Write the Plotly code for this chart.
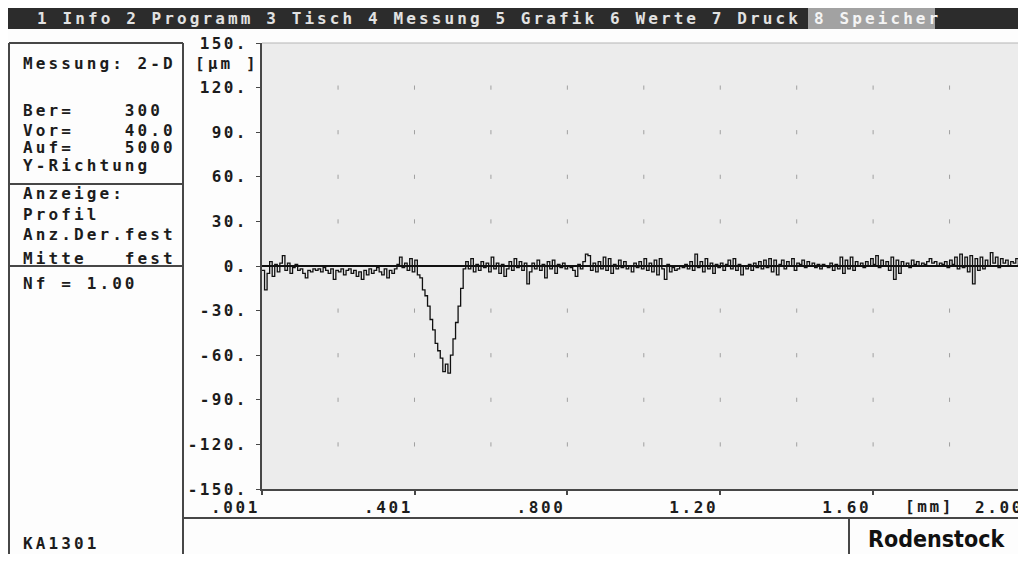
import numpy as np
import plotly.graph_objects as go

# ---------------- data ----------------
menu_items = "1 Info 2 Programm 3 Tisch 4 Messung 5 Grafik 6 Werte 7 Druck"
menu_active = "8 Speicher"

panel_lines = ["Messung: 2-D", "Ber=    300", "Vor=    40.0", "Auf=    5000", "Y-Richtung",
               "Anzeige:", "Profil", "Anz.Der.fest", "Mitte   fest", "Nf = 1.00"]
panel_footer = "KA1301"
brand = "Rodenstock"
y_unit = "[µm ]"
x_unit = "[mm]"

y_tickvals = [150, 120, 90, 60, 30, 0, -30, -60, -90, -120, -150]
y_ticktext = ["150.", "120.", "90.", "60.", "30.", "0.", "-30.", "-60.", "-90.", "-120.", "-150."]
x_tickvals = [0.001, 0.401, 0.800, 1.20, 1.60, 2.00]
x_ticktext = [".001", ".401", ".800", "1.20", "1.60", "2.00"]

grid_x = [0.2, 0.4, 0.6, 0.8, 1.0, 1.2, 1.4, 1.6, 1.8]
grid_y = [120, 90, 60, 30, -30, -60, -90, -120]

x_start, x_end = 0.001, 2.0

# profile heights in µm, read left to right
profile_left = [-3, -16, -5, 3, -7, 1, -4, 2, 7, -3, 2, -5, -1, 1, -3, -2, -5, -8, -3, -4,
                -2, -3, -2, -4, -1, -3, -5, -2, -9, -3, -4, -2, -6, -3, -2, -5, -3, -7, -4, -9,
                -3, -6, -2, -5, -3, -1, -4, -6, -2, -8, -3, -5, -2, 1, 6, -1, 2, -3, 5, -4,
                4, -6]
profile_groove = [-8, -16, -20, -27, -36, -43, -52, -57, -62, -71, -66, -72, -60, -49, -38,
                  -27, -15, -2]
profile_after = [3, -2, 5, -4, 1, -3, 3, -1, 2, -4, 6, -2, 2, -5, 1, -7, -2, 3, -3, 5, -1, 3]
profile_mid = [-3, 2, -12, -4, 2, -2, 4, -3, 1, -8, 3, -2, 4, -5, 1, -1, 2, -2, 0, -1,
               -3, -7, 1, -2, 3, 8, 7, -3, 2, -4, 3, -2, 6, -3, 5, -5, 1, -2, 4, -1,
               3, -2, 0, -4, 2, -1, 3, -2, 5, -3, 2, -4, 4, -6, 5, -2, -9, 1, -4, -1,
               -3, -2, 0, -1, 1, -2, 3, -3, 8, -1, 3, -4, 5, -2, 2, -5, 1, -1, 2, -3,
               1, 4, -2, 5, -3, 1, -6, 0, -2, 1, -3, 2, -1, 3, -2, 4, -1, 5, -4, 4, -6]
profile_right = [1, 4, -2, 3, 0, 5, -3, 2, 1, 4, -1, 3, 0, 2, -1, 1, -2, 1, 0, -1,
                 2, -3, 1, -2, 6, -5, 4, -2, 6, -3, 3, 0, 2, -1, 3, 0, 5, 1, 7, -1,
                 4, 0, 3, -3, 6, -9, 4, -5, 3, 0, 2, -1, 4, 1, 3, 0, 2, 1, 3, 5,
                 2, 3, 0, 2, 1, 3, -1, 4, 1, 6, -2, 8, -1, 6, -4, 7, -12, 5, -3, 6,
                 -2, 4, 0, 9, 2, 6, -1, 5, 2, 4, 0, 3, 2, 5, 1, 3, 2, 4]

profile = profile_left + profile_groove + profile_after + profile_mid + profile_right
xs = np.linspace(x_start, x_end, len(profile))

# ---------------- geometry (screen pixels of the photographed page) ----------------
W, H = 1026, 562
OFF = 8                      # default page body margin
FIG_W, FIG_H = W - OFF, H - 2 * OFF   # keep the page free of scrollbars
L, R, T, B = 262, 1026, 43, 489
MONO = "DejaVu Sans Mono"
INK = "#1c1c1c"
FRAME = "#474747"
FS = 16


def fx(p):
    return (p - L) / (R - L)


def fy(p):
    return (B - p) / (B - T)


def sp(s, ls=3.1):
    return '<span style="letter-spacing:%spx">%s</span>' % (ls, s.replace(" ", "\u00a0"))


fig = go.Figure()

# grid marks
gx = [x for x in grid_x for _ in grid_y]
gy = [y for _ in grid_x for y in grid_y]
fig.add_trace(go.Scatter(x=gx, y=gy, mode="markers", hoverinfo="skip",
                         marker=dict(symbol="line-ns-open", size=3, color="#a0a0a0",
                                     line=dict(color="#a0a0a0", width=1))))

fig.add_trace(go.Scatter(x=xs, y=profile, mode="lines",
                         line=dict(color="#111111", width=1.3, shape="hv")))

shapes = []


def rect(x0, y0, x1, y1, color):
    shapes.append(dict(type="rect", xref="paper", yref="paper", x0=fx(x0), x1=fx(x1),
                       y0=fy(y1), y1=fy(y0), fillcolor=color, line=dict(width=0), layer="below"))


def line(x0, y0, x1, y1, color=FRAME, w=2):
    shapes.append(dict(type="line", xref="paper", yref="paper", x0=fx(x0), x1=fx(x1),
                       y0=fy(y0), y1=fy(y1), line=dict(color=color, width=w)))


BOTTOM = OFF + FIG_H
# menu bar
rect(8, 8, 1022, 29, "#2c2c2c")
rect(808, 8, 935, 29, "#a2a2a2")

# left panel frame
line(9, 43, 183, 43)
line(9, 43, 9, BOTTOM)
line(183, 43, 183, BOTTOM)
line(9, 184, 183, 184)
line(9, 266, 183, 266)
# bottom strip
line(183, 518, 1026, 518)
line(849, 518, 849, BOTTOM)
# plot top border
line(262, 43, 1026, 43, "#b5b5b5", 1)

annotations = []


def txt(s, x, y, anchor="left", size=FS, color=INK, ls=3.1, family=MONO, weight="bold"):
    annotations.append(dict(text=sp(s, ls), x=fx(x), y=fy(y), xref="paper", yref="paper",
                            xanchor=anchor, yanchor="middle", showarrow=False,
                            font=dict(family=family, size=size, color=color, weight=weight)))


txt(menu_items, 35, 18.5, color="#e2e2e2")
txt(menu_active, 812, 18.5, color="#f4f4f4")

panel_y = [63, 110, 130, 147, 165, 193, 214, 234, 259, 283]
for s, yy in zip(panel_lines, panel_y):
    txt(s, 21, yy)
txt(panel_footer, 21, 543)
txt(y_unit, 193, 63)
txt(x_unit, 903, 507, ls=2.6)
annotations.append(dict(text=brand, x=fx(936), y=fy(539), xref="paper", yref="paper",
                        xanchor="center", yanchor="middle", showarrow=False,
                        font=dict(family="DejaVu Sans Condensed", size=23, color="#111",
                                  weight="bold")))

fig.update_layout(
    width=FIG_W, height=FIG_H,
    margin=dict(l=L - OFF, r=W - R, t=T - OFF, b=BOTTOM - B),
    paper_bgcolor="#fdfdfd", plot_bgcolor="#ececec",
    showlegend=False,
    shapes=shapes, annotations=annotations,
    xaxis=dict(range=[x_start, x_end], tickvals=x_tickvals,
               ticktext=[sp(t, 2.6) for t in x_ticktext],
               ticks="outside", ticklen=4, tickcolor=FRAME, tickwidth=2,
               ticklabelposition="outside left", ticklabelstandoff=3,
               showline=True, linecolor=FRAME, linewidth=2, showgrid=False, zeroline=False,
               tickfont=dict(family=MONO, size=FS, color=INK, weight="bold")),
    yaxis=dict(range=[-150, 150], tickvals=y_tickvals,
               ticktext=[sp(t, 2.4) for t in y_ticktext],
               ticks="outside", ticklen=4, tickcolor=FRAME, tickwidth=1,
               showline=True, linecolor=FRAME, linewidth=2, showgrid=False,
               zeroline=True, zerolinecolor="#111111", zerolinewidth=1.5,
               ticklabelstandoff=5,
               tickfont=dict(family=MONO, size=FS, color=INK, weight="bold")),
)

fig.write_html("out.html")
